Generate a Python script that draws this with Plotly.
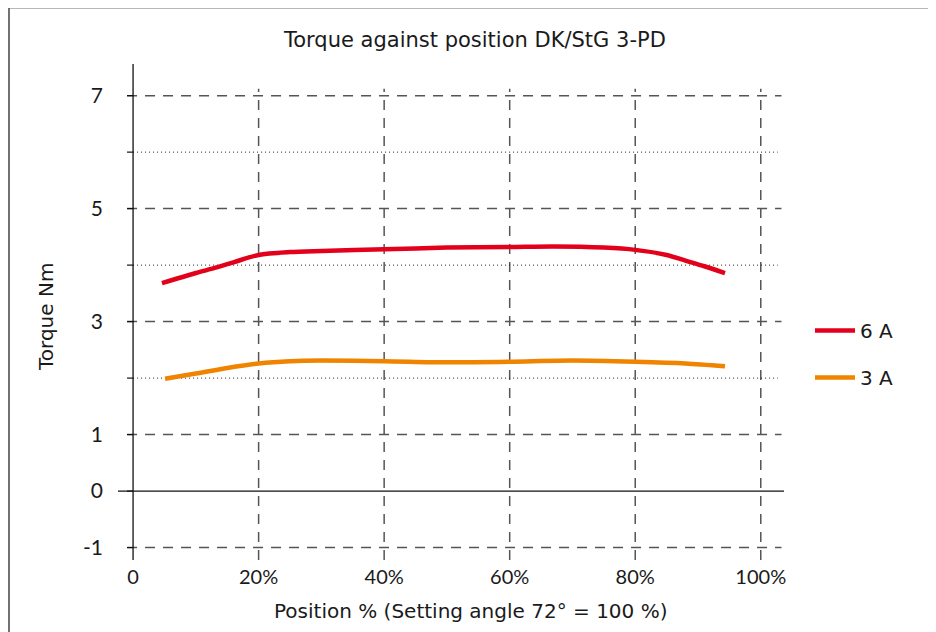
import plotly.graph_objects as go

# ---- data ----
pos_6a = [4.6, 10, 13, 16, 20, 25, 30, 40, 50, 60, 67, 75, 80, 85, 88, 91, 94.3]
torque_6a = [3.68, 3.86, 3.95, 4.05, 4.18, 4.23, 4.25, 4.28, 4.31, 4.32, 4.33, 4.31, 4.27, 4.18, 4.08, 3.98, 3.86]

pos_3a = [5.1, 10, 15, 20, 25, 30, 40, 50, 60, 70, 80, 88, 94.3]
torque_3a = [1.99, 2.08, 2.18, 2.26, 2.30, 2.31, 2.30, 2.28, 2.29, 2.31, 2.29, 2.26, 2.21]

x_tick_vals = [0, 20, 40, 60, 80, 100]
x_tick_text = ["0", "20%", "40%", "60%", "80%", "100%"]
y_tick_vals = [-1, 0, 1, 3, 5, 7]
y_tick_text = ["-1", "0", "1", "3", "5", "7"]
y_dashed = [-1, 1, 3, 5, 7]
y_dotted = [2, 4, 6]
y_ticks_all = [-1, 0, 1, 2, 3, 4, 5, 6, 7]

series_names = ["6 A", "3 A"]
series_colors = ["#e2001a", "#f08300"]

title_text = "Torque against position DK/StG 3-PD"
x_title = "Position % (Setting angle 72° = 100 %)"
y_title = "Torque Nm"

TXT = "#1a1a1a"
GRID = "#555555"
TEXT_FONT = "DejaVu Sans"
TICK_FONT = "Lato"

fig = go.Figure()
for name, xs, ys, col, grp in [
    (series_names[0], pos_6a, torque_6a, series_colors[0], "a"),
    (series_names[1], pos_3a, torque_3a, series_colors[1], "b"),
]:
    fig.add_trace(go.Scatter(x=xs, y=ys, mode="lines", name=name, legendgroup=grp,
                             line=dict(color=col, width=4.5, shape="spline", smoothing=0.8)))

shapes = []
for v in y_dashed:
    shapes.append(dict(type="line", xref="x", yref="y", x0=-0.96, x1=103.3, y0=v, y1=v,
                       line=dict(color=GRID, width=1.5, dash="10px,8px"), layer="below"))
for v in y_dotted:
    shapes.append(dict(type="line", xref="x", yref="y", x0=0, x1=102.7, y0=v, y1=v,
                       line=dict(color="#222222", width=1, dash="1px,3px"), layer="below"))
for v in x_tick_vals[1:]:
    shapes.append(dict(type="line", xref="x", yref="paper", x0=v, x1=v, y0=0, y1=0.95,
                       line=dict(color=GRID, width=1.5, dash="10px,8px"), layer="below"))
for v in y_ticks_all:
    shapes.append(dict(type="line", xref="x", yref="y", x0=-0.96, x1=0, y0=v, y1=v,
                       line=dict(color="#111111", width=1.2), layer="below"))
shapes.append(dict(type="line", xref="x", yref="paper", x0=0, x1=0, y0=0, y1=1,
                   line=dict(color="#111111", width=1.3)))
shapes.append(dict(type="line", xref="paper", yref="y", x0=0, x1=1, y0=0, y1=0,
                   line=dict(color="#111111", width=1.3)))
# outer frame (top and left)
shapes.append(dict(type="line", xref="paper", yref="paper", x0=-0.1637, x1=1.25, y0=1.114, y1=1.114,
                   line=dict(color="#707070", width=2)))
shapes.append(dict(type="line", xref="paper", yref="paper", x0=-0.1637, x1=-0.1637, y0=1.114, y1=-0.2,
                   line=dict(color="#707070", width=2)))

annotations = [
    dict(text=title_text, xref="paper", yref="paper", x=(474 - 118) / 666, y=(560 - 40) / 496,
         xanchor="center", yanchor="middle", showarrow=False,
         font=dict(family=TEXT_FONT, size=21, color=TXT)),
    dict(text=x_title, xref="paper", yref="paper", x=(470 - 118) / 666, y=(560 - 611) / 496,
         xanchor="center", yanchor="middle", showarrow=False,
         font=dict(family=TEXT_FONT, size=20, color=TXT)),
    dict(text=y_title, xref="paper", yref="paper", x=(46 - 118) / 666, y=(560 - 317) / 496,
         xanchor="center", yanchor="middle", showarrow=False, textangle=-90,
         font=dict(family=TEXT_FONT, size=20, color=TXT)),
]

fig.update_layout(
    width=936, height=632,
    margin=dict(l=110, r=160, t=56, b=80, pad=0),
    paper_bgcolor="white", plot_bgcolor="white",
    showlegend=True,
    legend=dict(x=(810 - 118) / 666, y=(560 - 311) / 496, xanchor="left", yanchor="top",
                font=dict(family=TEXT_FONT, size=20, color=TXT), tracegroupgap=18,
                itemwidth=40, bgcolor="rgba(0,0,0,0)"),
    xaxis=dict(range=[-2.4, 103.7], showgrid=False, zeroline=False, showline=False,
               tickmode="array", tickvals=x_tick_vals, ticktext=x_tick_text,
               ticks="", ticklabelstandoff=3,
               tickfont=dict(family=TICK_FONT, size=20, color=TXT), fixedrange=True),
    yaxis=dict(range=[-1.22, 7.56], showgrid=False, zeroline=False, showline=False,
               tickmode="array", tickvals=y_tick_vals, ticktext=y_tick_text,
               ticks="", ticklabelstandoff=14,
               tickfont=dict(family=TICK_FONT, size=21, color=TXT), fixedrange=True),
    shapes=shapes,
    annotations=annotations,
)

fig.write_html("out.html")
